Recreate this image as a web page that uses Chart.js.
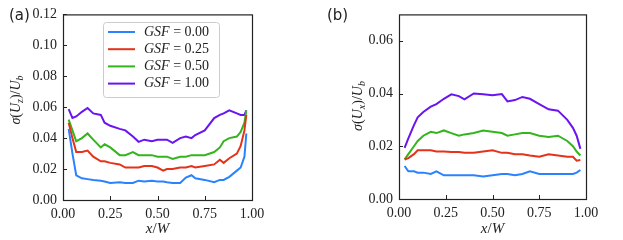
<!DOCTYPE html>
<html>
<head>
<meta charset="utf-8">
<script src="https://cdn.jsdelivr.net/npm/chart.js@4.4.0/dist/chart.umd.min.js"></script>
<style>
  body { margin: 0; background: #fff; }
  #wrap { position: relative; width: 623px; height: 240px; }
  .box { position: absolute; top: 0; height: 240px; }
</style>
</head>
<body>
<div id="wrap">
  <div class="box" style="left:0;width:310px"><canvas id="chartA" width="310" height="240"></canvas></div>
  <div class="box" style="left:310px;width:313px"><canvas id="chartB" width="313" height="240"></canvas></div>
</div>
<script>
// valeurs GSF et couleurs des courbes
const gsfValues = ["0.00", "0.25", "0.50", "1.00"];
const colors = ["#2a82ff", "#e4321b", "#33b51c", "#6a14f0"];

// panneau (a) : sigma(Uz)/Ub
const xA = [0.03, 0.05, 0.07, 0.1, 0.13, 0.16, 0.2, 0.22, 0.25, 0.3, 0.33, 0.37, 0.4, 0.43, 0.47, 0.5,
  0.53, 0.55, 0.58, 0.62, 0.65, 0.68, 0.7, 0.75, 0.8, 0.83, 0.85, 0.88, 0.92, 0.94, 0.96, 0.97];
const a000 = [0.046, 0.030, 0.016, 0.014, 0.0135, 0.013, 0.0125, 0.012, 0.011, 0.0115, 0.011, 0.011, 0.0125, 0.012, 0.0125, 0.012,
  0.012, 0.0115, 0.011, 0.011, 0.0145, 0.016, 0.014, 0.013, 0.0115, 0.013, 0.013, 0.015, 0.019, 0.021, 0.028, 0.043];
const a025 = [0.050, 0.040, 0.031, 0.031, 0.032, 0.028, 0.025, 0.025, 0.024, 0.023, 0.021, 0.021, 0.021, 0.022, 0.022, 0.021,
  0.019, 0.020, 0.020, 0.021, 0.021, 0.022, 0.021, 0.022, 0.023, 0.026, 0.024, 0.027, 0.030, 0.035, 0.045, 0.055];
const a050 = [0.052, 0.045, 0.038, 0.040, 0.043, 0.039, 0.034, 0.036, 0.034, 0.029, 0.029, 0.031, 0.029, 0.029, 0.029, 0.028,
  0.028, 0.028, 0.0265, 0.028, 0.028, 0.029, 0.029, 0.029, 0.031, 0.034, 0.038, 0.040, 0.041, 0.044, 0.050, 0.058];
const a100 = [0.0587, 0.053, 0.054, 0.057, 0.0595, 0.056, 0.055, 0.050, 0.048, 0.046, 0.045, 0.041, 0.0376, 0.039, 0.038, 0.039,
  0.039, 0.039, 0.037, 0.040, 0.041, 0.040, 0.042, 0.045, 0.053, 0.055, 0.056, 0.058, 0.056, 0.055, 0.055, 0.058];

// panneau (b) : sigma(Ux)/Ub
const xB = [0.03, 0.05, 0.08, 0.1, 0.13, 0.17, 0.2, 0.24, 0.28, 0.32, 0.35, 0.4, 0.45, 0.5, 0.55, 0.58,
  0.62, 0.66, 0.7, 0.75, 0.8, 0.85, 0.9, 0.93, 0.95, 0.97];
const b000 = [0.0125, 0.0105, 0.0105, 0.010, 0.010, 0.0095, 0.0105, 0.009, 0.009, 0.009, 0.009, 0.009, 0.0085, 0.009, 0.0095, 0.0095,
  0.009, 0.0095, 0.0105, 0.0095, 0.0095, 0.0095, 0.0095, 0.0095, 0.010, 0.011];
const b025 = [0.015, 0.0155, 0.017, 0.0185, 0.0185, 0.0185, 0.018, 0.018, 0.0178, 0.0178, 0.0175, 0.0175, 0.018, 0.0185, 0.0175, 0.0175,
  0.017, 0.017, 0.0165, 0.016, 0.017, 0.0165, 0.016, 0.016, 0.0145, 0.0148];
const b050 = [0.015, 0.017, 0.020, 0.022, 0.024, 0.0255, 0.025, 0.026, 0.025, 0.024, 0.0245, 0.025, 0.026, 0.0255, 0.025, 0.024,
  0.0245, 0.025, 0.025, 0.024, 0.0235, 0.024, 0.022, 0.020, 0.018, 0.0165];
const b100 = [0.0194, 0.023, 0.028, 0.031, 0.033, 0.035, 0.036, 0.038, 0.0397, 0.039, 0.0378, 0.040, 0.0397, 0.0393, 0.0398, 0.037,
  0.0375, 0.0387, 0.038, 0.036, 0.034, 0.0335, 0.030, 0.027, 0.024, 0.019];

// graduations
const xTicks = [0, 0.25, 0.5, 0.75, 1];
const yTicksA = [0, 0.02, 0.04, 0.06, 0.08, 0.10, 0.12];
const yTicksB = [0, 0.02, 0.04, 0.06];

const TXT = "#222";
const SERIF = "'Liberation Serif', 'DejaVu Serif', serif";

function makeSets(xs, series) {
  return series.map((ys, i) => ({
    label: "GSF = " + gsfValues[i],
    data: xs.map((x, k) => ({ x: x, y: ys[k] })),
    borderColor: colors[i],
    borderWidth: 2,
    pointRadius: 0,
    fill: false,
    tension: 0
  }));
}

// texte mixte : [texte, style] avec style "i" italique, "r" droit, "s" indice
function fontFor(st, size) {
  if (st === "s") return "italic " + Math.round(size * 0.7) + "px " + SERIF;
  if (st === "i") return "italic " + size + "px " + SERIF;
  return size + "px " + SERIF;
}
function richWidth(ctx, parts, size) {
  let w = 0;
  parts.forEach(p => {
    ctx.font = fontFor(p[1], size);
    w += ctx.measureText(p[0]).width;
  });
  return w;
}
function drawRich(ctx, parts, x, y, size, align) {
  let cx = align === "center" ? x - richWidth(ctx, parts, size) / 2 : x;
  ctx.textBaseline = "middle";
  ctx.textAlign = "left";
  parts.forEach(p => {
    ctx.font = fontFor(p[1], size);
    ctx.fillText(p[0], cx, p[1] === "s" ? y + size * 0.3 : y);
    cx += ctx.measureText(p[0]).width;
  });
}

const framePlugin = {
  id: "frame",
  afterDraw(chart, args, o) {
    const { ctx, chartArea: a, scales } = chart;
    ctx.save();
    ctx.strokeStyle = TXT;
    ctx.lineWidth = 1.2;
    ctx.strokeRect(a.left + 0.5, a.top + 0.5, a.right - a.left, a.bottom - a.top);
    ctx.lineWidth = 1;
    ctx.beginPath();
    scales.x.ticks.forEach((t, i) => {
      const px = Math.round(scales.x.getPixelForTick(i)) + 0.5;
      ctx.moveTo(px, a.bottom);
      ctx.lineTo(px, a.bottom - 4);
    });
    scales.y.ticks.forEach((t, i) => {
      const py = Math.round(scales.y.getPixelForTick(i)) + 0.5;
      ctx.moveTo(a.left, py);
      ctx.lineTo(a.left + 4, py);
    });
    ctx.stroke();

    ctx.fillStyle = TXT;
    // titre x
    drawRich(ctx, [["x", "i"], ["/", "r"], ["W", "i"]], (a.left + a.right) / 2, 229, 15, "center");
    // titre y (tourné)
    ctx.save();
    ctx.translate(o.yTitleX, o.yTitleY);
    ctx.rotate(-Math.PI / 2);
    drawRich(ctx, [["σ", "i"], ["(", "r"], ["U", "i"], [o.sub, "s"], [")/", "r"], ["U", "i"], ["b", "s"]], 0, 0, 14, "center");
    ctx.restore();
    // étiquette du panneau
    ctx.font = "15px 'DejaVu Sans', sans-serif";
    ctx.textAlign = "left";
    ctx.textBaseline = "middle";
    ctx.fillText(o.panel, o.panelX, 16);

    // légende
    if (o.legend) {
      ctx.fillStyle = "rgba(255,255,255,0.85)";
      ctx.strokeStyle = "#cccccc";
      ctx.lineWidth = 1;
      ctx.beginPath();
      ctx.roundRect(103.5, 22.5, 116, 75, 3);
      ctx.fill();
      ctx.stroke();
      chart.data.datasets.forEach((ds, i) => {
        const y = 32 + i * 17.2;
        ctx.strokeStyle = ds.borderColor;
        ctx.lineWidth = 2;
        ctx.beginPath();
        ctx.moveTo(108, y);
        ctx.lineTo(135, y);
        ctx.stroke();
        ctx.fillStyle = TXT;
        drawRich(ctx, [["GSF", "i"], [" = " + gsfValues[i], "r"]], 144, y, 14, "left");
      });
    }
    ctx.restore();
  }
};

function makeChart(id, xs, series, yMax, yTicks, yWidth, pad, xHeight, extra) {
  return new Chart(document.getElementById(id).getContext("2d"), {
    type: "line",
    data: { datasets: makeSets(xs, series) },
    options: {
      responsive: false,
      animation: false,
      layout: { padding: pad },
      plugins: {
        legend: { display: false },
        tooltip: { enabled: false },
        frame: extra
      },
      scales: {
        x: {
          type: "linear",
          min: 0,
          max: 1,
          afterBuildTicks: s => { s.ticks = xTicks.map(v => ({ value: v })); },
          afterFit: s => { s.height = xHeight; },
          grid: { display: false, drawTicks: false },
          border: { display: false },
          ticks: {
            color: TXT,
            padding: 6,
            font: { family: SERIF, size: 14 },
            callback: v => Number(v).toFixed(2),
            maxRotation: 0
          }
        },
        y: {
          min: 0,
          max: yMax,
          afterBuildTicks: s => { s.ticks = yTicks.map(v => ({ value: v })); },
          afterFit: s => { s.width = yWidth; },
          grid: { display: false, drawTicks: false },
          border: { display: false },
          ticks: {
            color: TXT,
            padding: 6,
            font: { family: SERIF, size: 14 },
            callback: v => Number(v).toFixed(2)
          }
        }
      }
    },
    plugins: [framePlugin]
  });
}

makeChart("chartA", xA, [a000, a025, a050, a100], 0.12, yTicksA, 63,
  { left: 0, top: 14, right: 58, bottom: 0 }, 40,
  { sub: "z", yTitleX: 16, yTitleY: 100, panel: "(a)", panelX: 9, legend: true });

makeChart("chartB", xB, [b000, b025, b050, b100], 0.07, yTicksB, 89,
  { left: 0, top: 13, right: 37, bottom: 0 }, 41,
  { sub: "x", yTitleX: 48, yTitleY: 106, panel: "(b)", panelX: 17, legend: false });
</script>
</body>
</html>
